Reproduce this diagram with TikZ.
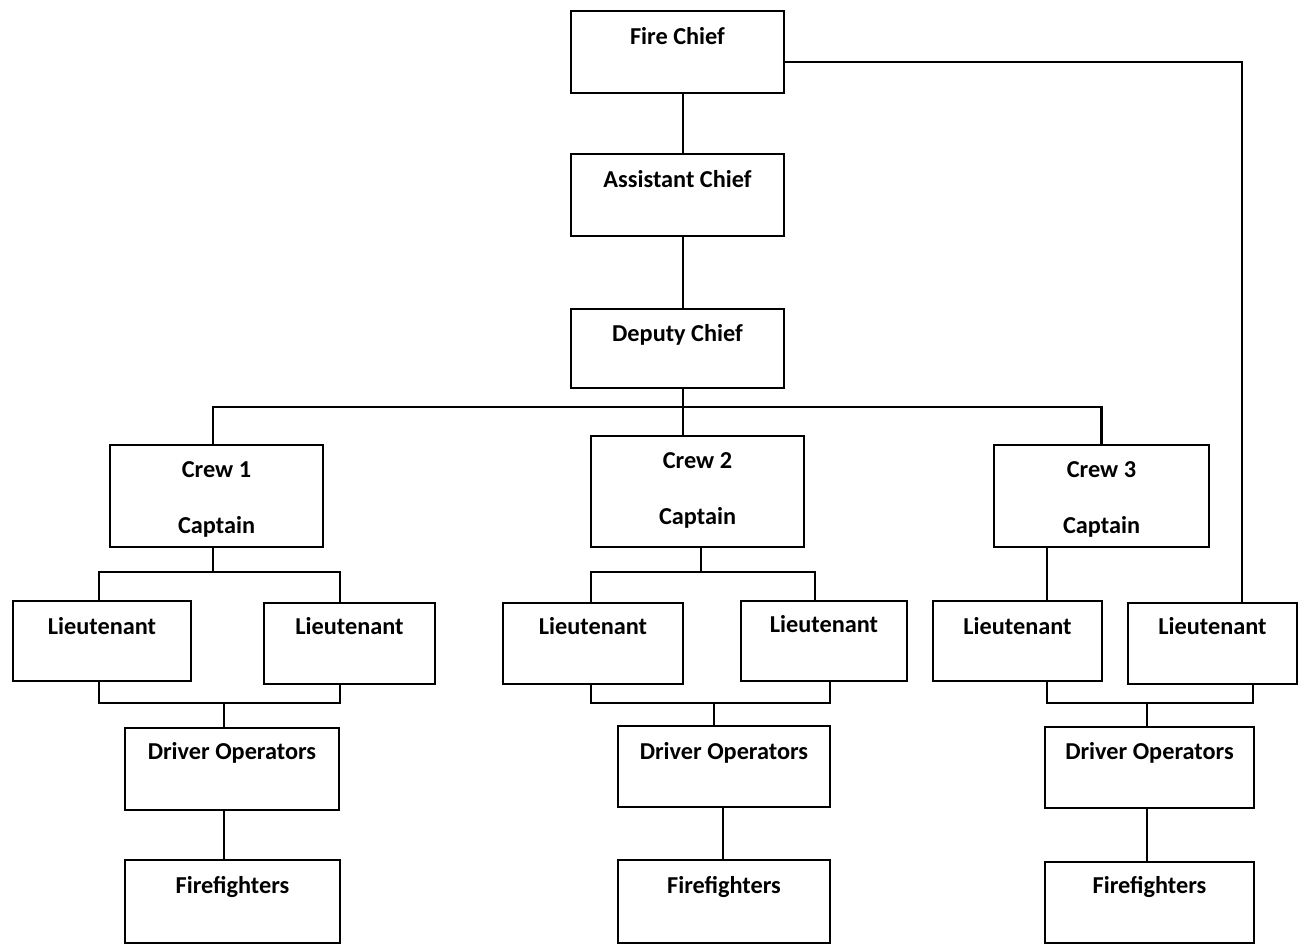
\documentclass[tikz,border=0pt]{standalone}
\usepackage{fontspec}
\setmainfont{Carlito}
\begin{document}
\begin{tikzpicture}[x=1pt,y=-1pt,
  box/.style={draw, line width=2.2pt, anchor=north west, inner sep=0pt, outer sep=0pt},
  txt/.style={anchor=base, font=\bfseries\fontsize{24.3}{28}\selectfont, inner sep=0pt},
  ln/.style={line width=2.2pt}]
\useasboundingbox (0,0) rectangle (1307,951);
% #1 name, #2-#5 corners, #6 text, #7 text baseline (absolute)
\newcommand\mybox[7]{%
  \node[box, minimum width={#4-#2}, minimum height={#5-#3}] (#1) at (#2,#3) {};
  \node[txt] (#1t) at ([yshift={#3-#7}]#1.north) {#6};}
% top chain
\mybox{fc}{571}{11}{784}{93}{Fire Chief}{44}
\mybox{ac}{571}{154}{784}{236}{Assistant Chief}{187}
\mybox{dc}{571}{309}{784}{388}{Deputy Chief}{341}
% crews
\mybox{c1}{110}{445}{323}{547}{Crew 1}{477}
\node[txt] (c1b) at ([yshift=-88pt]c1.north) {Captain};
\mybox{c2}{591}{436}{804}{547}{Crew 2}{468}
\node[txt] (c2b) at ([yshift=-88pt]c2.north) {Captain};
\mybox{c3}{994}{445}{1209}{547}{Crew 3}{477}
\node[txt] (c3b) at ([yshift=-88pt]c3.north) {Captain};
% lieutenants
\mybox{l1}{13}{601}{191}{681}{Lieutenant}{634}
\mybox{l2}{264}{603}{435}{684}{Lieutenant}{634}
\mybox{l3}{503}{603}{683}{684}{Lieutenant}{634}
\mybox{l4}{741}{601}{907}{681}{Lieutenant}{632}
\mybox{l5}{933}{601}{1102}{681}{Lieutenant}{634}
\mybox{l6}{1128}{603}{1297}{684}{Lieutenant}{634}
% drivers
\mybox{d1}{125}{728}{339}{810}{Driver Operators}{759}
\mybox{d2}{618}{726}{830}{807}{Driver Operators}{759}
\mybox{d3}{1045}{727}{1254}{808}{Driver Operators}{759}
% firefighters
\mybox{f1}{125}{860}{340}{943}{Firefighters}{893}
\mybox{f2}{618}{860}{830}{943}{Firefighters}{893}
\mybox{f3}{1045}{862}{1254}{943}{Firefighters}{893}
% connectors: chain
\draw[ln] ([xshift=5.5pt]fc.south) -- ([xshift=5.5pt]ac.north);
\draw[ln] ([xshift=5.5pt]ac.south) -- ([xshift=5.5pt]dc.north);
\coordinate (b0) at (683,407);
\draw[ln] ([xshift=5.5pt]dc.south) -- ([xshift=-14.5pt]c2.north);
\draw[ln] ([xshift=-3.5pt]c1.north) |- (b0) -| (c3.north);
\draw[ln] ([yshift=-10pt]fc.east) -| ([xshift=29.5pt]l6.north);
% crew 1
\coordinate (k1) at (213,572);
\draw[ln] ([xshift=-3.5pt]c1.south) -- (k1);
\draw[ln] ([xshift=-3pt]l1.north) |- (k1) -| ([xshift=-9.5pt]l2.north);
\coordinate (m1) at (224,703);
\draw[ln] ([xshift=-3pt]l1.south) |- (m1) -| ([xshift=-9.5pt]l2.south);
\draw[ln] (m1) -- ([xshift=-8pt]d1.north);
\draw[ln] ([xshift=-8pt]d1.south) -- ([xshift=-8.5pt]f1.north);
% crew 2
\coordinate (k2) at (701,572);
\draw[ln] ([xshift=3.5pt]c2.south) -- (k2);
\draw[ln] ([xshift=-2pt]l3.north) |- (k2) -| ([xshift=-9pt]l4.north);
\coordinate (m2) at (714,703);
\draw[ln] ([xshift=-2pt]l3.south) |- (m2) -| ([xshift=6pt]l4.south);
\draw[ln] (m2) -- ([xshift=-10pt]d2.north);
\draw[ln] ([xshift=-1pt]d2.south) -- ([xshift=-1pt]f2.north);
% crew 3
\draw[ln] ([xshift=-54.5pt]c3.south) -- ([xshift=29.5pt]l5.north);
\coordinate (m3) at (1147,703);
\draw[ln] ([xshift=29.5pt]l5.south) |- (m3) -| ([xshift=40.5pt]l6.south);
\draw[ln] (m3) -- ([xshift=-2.5pt]d3.north);
\draw[ln] ([xshift=-2.5pt]d3.south) -- ([xshift=-2.5pt]f3.north);
\end{tikzpicture}
\end{document}
